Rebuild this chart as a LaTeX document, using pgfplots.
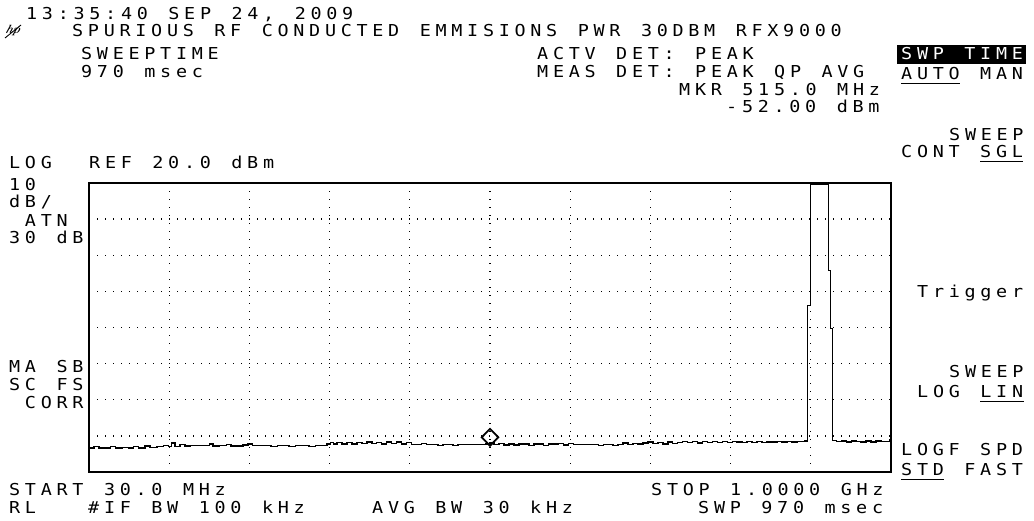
\documentclass[border=0pt]{standalone}
\usepackage{fontspec}
\usepackage{pgfplots}
\pgfplotsset{compat=1.18}
\newfontfamily\scrfont{DejaVu Sans Mono}
\newcommand\mono[1]{\monoloop#1\relax}
\def\monoloop#1{\ifx#1\relax\else\makebox[15.8bp][l]{\scalebox{1.12}[1]{#1}}\expandafter\monoloop\fi}
\newcommand\T[3]{\node[anchor=base west,inner sep=0pt,font=\scrfont\fontsize{16.5}{18}\selectfont] at (#1,521-#2) {\mono{#3}};}
\newcommand\W[3]{\node[anchor=base west,inner sep=0pt,text=white,font=\scrfont\fontsize{16.5}{18}\selectfont] at (#1,521-#2) {\mono{#3}};}
\newcommand\U[3]{\draw[line width=1.4bp] (#1,521-#2-3.5) -- ++(#3*15.8-4,0);}
\pgfplotstableread{
f d
30 -53.4
36 -53.0
42 -53.3
50 -53.3
56 -52.9
62 -53.3
70 -53.2
78 -53.4
84 -53.0
90 -53.3
98 -52.8
104 -53.2
112 -52.9
120 -52.7
126 -52.9
130 -52.0
134 -52.9
140 -52.4
146 -52.8
152 -52.6
160 -52.7
168 -52.7
176 -52.3
180 -52.8
188 -52.7
196 -52.4
202 -52.8
210 -52.8
216 -52.5
222 -52.3
228 -52.6
236 -52.6
244 -52.6
250 -52.9
258 -52.6
266 -52.6
272 -52.9
280 -52.6
288 -52.6
296 -52.9
304 -52.6
310 -52.6
318 -52.3
322 -51.9
326 -52.3
330 -51.9
336 -52.2
342 -51.8
348 -52.2
354 -51.8
360 -52.1
366 -51.7
372 -52.1
378 -51.8
384 -52.2
390 -51.7
396 -52.1
402 -51.7
408 -52.2
414 -51.8
420 -52.4
426 -52.4
432 -52.1
438 -52.4
446 -52.4
452 -52.7
458 -52.4
464 -52.4
470 -52.7
476 -52.4
482 -52.4
490 -52.4
496 -52.4
504 -52.4
510 -52.3
515 -52.0
520 -52.4
526 -52.1
532 -52.5
538 -52.2
544 -52.5
550 -52.3
556 -52.3
562 -52.6
568 -52.3
574 -52.3
580 -52.6
586 -52.3
592 -52.3
598 -52.1
604 -52.5
610 -52.1
616 -52.4
622 -52.4
628 -52.4
634 -52.4
640 -52.4
646 -52.7
652 -52.4
658 -52.4
664 -52.7
670 -52.4
676 -52.0
682 -52.4
688 -52.1
694 -52.3
700 -52.0
706 -51.7
712 -52.1
718 -51.8
724 -52.2
730 -51.7
736 -52.1
742 -51.8
748 -51.5
754 -51.9
760 -51.6
766 -52.0
772 -51.6
778 -51.9
784 -51.6
790 -51.9
796 -51.6
802 -51.9
808 -51.6
814 -51.7
820 -51.8
826 -51.6
832 -51.8
838 -51.6
844 -51.8
850 -51.7
856 -51.7
862 -51.6
868 -51.7
874 -51.6
880 -51.7
886 -51.6
892 -51.5
896 -51.3
898 -51.6
899 -51.5
899.2 -13.9
902.5 -13.9
902.8 19.6
924.0 19.6
924.2 -4.2
926.8 -4.2
927.0 -20.3
929.3 -20.3
929.5 -51.3
934 -51.6
940 -51.4
946 -51.7
952 -51.4
958 -51.6
964 -51.7
970 -51.4
976 -51.7
982 -51.4
988 -51.6
994 -51.6
998 -51.0
1000 -51.4
}\trace
\begin{document}
\begin{tikzpicture}[x=1bp,y=1bp]
\useasboundingbox (0,0) rectangle (1034,521);
\begin{axis}[at={(89bp,49bp)}, anchor=south west, scale only axis,
  width=802bp, height=289bp,
  xmin=30, xmax=1000, ymin=-60, ymax=20,
  xtick={127,224,321,418,515,612,709,806,903},
  ytick={-50,-40,-30,-20,-10,0,10},
  xticklabels={}, yticklabels={},
  major tick length=0pt,
  grid=major,
  grid style={black, line width=1.3bp, dash pattern=on 1.3bp off 6.7bp},
  axis line style={black, line width=1.8bp},
  clip=true]
\addplot[const plot, black, line width=1.5bp] table[x=f,y=d] {\trace};
\addplot[only marks, mark=diamond, mark size=8.5bp, mark options={line width=1.8bp, xscale=1.3, black}] coordinates {(515,-50.4)};
\end{axis}
% header
\T{26}{20}{13:35:40~SEP~24,~2009}
\node[inner sep=0pt,font=\bfseries\itshape\fontsize{12}{12}\selectfont,xslant=0.3] at (13,521-31) {hp};
\draw[line width=0.9bp] (5,521-38) -- (21,521-25);
\T{72}{37}{SPURIOUS~RF~CONDUCTED~EMMISIONS~PWR~30DBM~RFX9000}
\T{81}{60}{SWEEPTIME}
\T{81}{78}{970~msec}
\T{537}{60}{ACTV~DET:~PEAK}
\T{537}{78}{MEAS~DET:~PEAK~QP~AVG}
\T{679}{96}{MKR~515.0~MHz}
\T{726}{113}{-52.00~dBm}
% softkeys
\fill[black] (897,521-64) rectangle (1026,521-45);
\W{901}{60}{SWP~TIME}
\T{901}{80}{AUTO~MAN}
\U{901}{80}{4}
\T{949}{141}{SWEEP}
\T{901}{158}{CONT~SGL}
\U{980.0}{158}{3}
\T{917}{298}{Trigger}
\T{949}{378}{SWEEP}
\T{917}{398}{LOG~LIN}
\U{980.2}{398}{3}
\T{901}{456}{LOGF~SPD}
\T{901}{476}{STD~FAST}
\U{901}{476}{3}
% left column
\T{9}{169}{LOG}
\T{89}{169}{REF~20.0~dBm}
\T{9}{191}{10}
\T{9}{208}{dB/}
\T{9}{227}{~ATN}
\T{9}{244}{30~dB}
\T{9}{373}{MA~SB}
\T{9}{391}{SC~FS}
\T{9}{409}{~CORR}
% bottom
\T{9}{496}{START~30.0~MHz}
\T{651}{496}{STOP~1.0000~GHz}
\T{9}{514}{RL}
\T{88}{514}{\#IF~BW~100~kHz}
\T{372}{514}{AVG~BW~30~kHz}
\T{698}{514}{SWP~970~msec}
\end{tikzpicture}
\end{document}
